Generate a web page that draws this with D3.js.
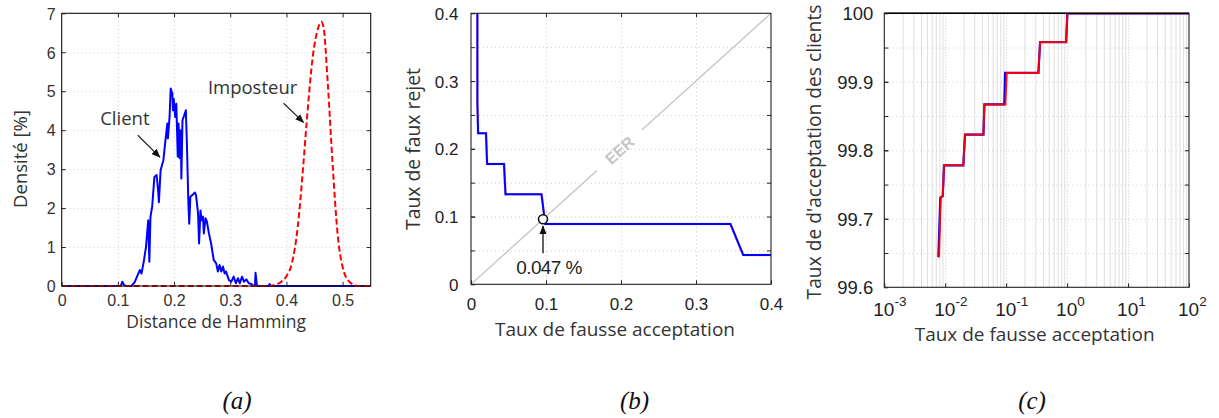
<!DOCTYPE html>
<html><head><meta charset="utf-8">
<script src="https://cdn.jsdelivr.net/npm/d3@7"></script>
<style>
html,body{margin:0;padding:0;background:#fff;}
svg{display:block;}
</style></head>
<body>
<svg id="chart" width="1219" height="418"></svg>
<script>
// ---------- DATA ----------
// (a) Hamming distance densities [%]
const clientDensity = [[0,0],[0.105,0],[0.108,0.11],[0.111,0.02],[0.115,0],[0.124,0],[0.13,0.1],[0.134,0.24],[0.139,0.41],[0.142,0.32],[0.146,0.62],[0.150,1.0],[0.154,1.69],[0.156,0.62],[0.158,1.78],[0.161,2.03],[0.165,2.8],[0.169,2.85],[0.172,2.38],[0.173,2.15],[0.176,2.97],[0.181,3.23],[0.185,3.79],[0.188,4.17],[0.189,3.79],[0.192,4.34],[0.194,5.07],[0.197,4.94],[0.198,4.51],[0.1995,4.8],[0.202,4.34],[0.204,4.68],[0.2066,3.32],[0.208,4.17],[0.21,3.28],[0.212,4.0],[0.213,2.76],[0.215,4.26],[0.218,4.38],[0.221,4.51],[0.223,3.57],[0.2255,2.12],[0.227,1.6],[0.229,2.29],[0.233,2.34],[0.237,2.4],[0.239,2.34],[0.2427,1.86],[0.2445,1.09],[0.247,1.94],[0.249,1.69],[0.2515,1.78],[0.253,1.35],[0.256,1.74],[0.2585,1.65],[0.262,1.35],[0.266,1.09],[0.2705,0.67],[0.275,0.58],[0.278,0.37],[0.281,0.54],[0.284,0.37],[0.287,0.5],[0.29,0.32],[0.2925,0.37],[0.2977,0.15],[0.302,0.11],[0.306,0.24],[0.31,0.07],[0.3137,0.2],[0.317,0.07],[0.321,0.24],[0.3244,0.11],[0.3286,0.17],[0.333,0.07],[0.3375,0.05],[0.3415,0],[0.344,0],[0.345,0.34],[0.3475,0],[0.368,0],[0.37,0.05],[0.372,0],[0.55,0]];
const imposterDensity = [[0,0],[0.37,0],[0.38,0.03],[0.39,0.1],[0.40,0.25],[0.41,0.6],[0.42,1.5],[0.43,3.1],[0.436,4.2],[0.447,5.9],[0.456,6.6],[0.462,6.78],[0.466,6.65],[0.4736,5.2],[0.4825,3.06],[0.491,1.35],[0.5,0.49],[0.512,0.11],[0.527,0],[0.55,0]];
const ticksAx = [0,0.1,0.2,0.3,0.4,0.5];
const ticksAy = [0,1,2,3,4,5,6,7];
const annotA = [
  {text:"Client", lx:0.1124, ly:4.31, x1:0.1355, y1:3.87, x2:0.1746, y2:3.31},
  {text:"Imposteur", lx:0.3398, ly:5.10, x1:0.395, y1:4.69, x2:0.4304, y2:4.2}
];
// (b) ROC : FRR vs FAR
const frrCurve = [[0.0085,0.4],[0.0085,0.27],[0.0095,0.223],[0.020,0.223],[0.0215,0.1776],[0.044,0.1776],[0.046,0.133],[0.094,0.133],[0.099,0.089],[0.346,0.089],[0.363,0.0432],[0.4,0.0432]];
const eerPoint = [0.096,0.096];
const eerLabel = "0.047 %";
const ticksBx = [0,0.1,0.2,0.3,0.4];
const ticksBy = [0,0.1,0.2,0.3,0.4];
const minorB = [0.05,0.1,0.15,0.2,0.25,0.3,0.35];
// (c) Genuine acceptance vs FAR (log)
const garRed = [[0.0079,99.644],[0.00843,99.731],[0.0091,99.733],[0.00955,99.778],[0.0198,99.778],[0.0211,99.823],[0.0423,99.823],[0.0439,99.867],[0.097,99.867],[0.102,99.913],[0.338,99.913],[0.36,99.958],[0.964,99.958],[1.01,100],[100,100]];
const garBlue = [[0.0077,99.644],[0.0083,99.731],[0.0091,99.733],[0.00955,99.778],[0.0198,99.778],[0.0211,99.823],[0.0423,99.823],[0.0439,99.867],[0.093,99.867],[0.096,99.913],[0.338,99.913],[0.36,99.958],[0.964,99.958],[1.01,100],[100,100]];
const ticksCx = [1e-3,1e-2,1e-1,1e0,1e1,1e2];
const ticksCy = [99.6,99.7,99.8,99.9,100];
const minorCy = [99.65,99.7,99.75,99.8,99.85,99.9,99.95];
const captions = ["(a)","(b)","(c)"];

// ---------- SETUP ----------
const svg = d3.select("#chart");
const TICKFONT = "'Liberation Sans', Arial, sans-serif";
const TITLEFONT = "'Open Sans', 'Noto Sans', sans-serif";
const GRID = "#cfcfcf";

const defs = svg.append("defs");
defs.append("marker").attr("id","arr").attr("viewBox","0 0 10 10").attr("refX",9).attr("refY",5)
  .attr("markerWidth",9).attr("markerHeight",9).attr("markerUnits","userSpaceOnUse").attr("orient","auto")
  .append("path").attr("d","M0,1 L10,5 L0,9 Z").attr("fill","#111");

function fit(sel, target){
  const w = sel.node().getComputedTextLength();
  const fs = parseFloat(sel.attr("font-size"));
  sel.attr("font-size", (fs*target/w).toFixed(2));
}
function clip(id, x0,x1,y0,y1){
  defs.append("clipPath").attr("id",id).append("rect")
    .attr("x",x0).attr("y",y1).attr("width",x1-x0).attr("height",y0-y1);
}
function frame(g, x0,x1,y0,y1, col){
  g.append("rect").attr("x",x0).attr("y",y1).attr("width",x1-x0).attr("height",y0-y1)
   .attr("fill","none").attr("stroke",col||"#111").attr("stroke-width",1.1);
}
function styleAxis(a){ a.select(".domain").remove(); a.selectAll("line").attr("stroke","#222"); }

// ---------- PANEL A ----------
{
  const x = d3.scaleLinear([0,0.55],[61.7,370.7]);
  const y = d3.scaleLinear([0,7],[286,13.3]);
  const [X0,X1] = x.range(), [Y0,Y1] = y.range();
  const g = svg.append("g");
  clip("ca",X0,X1,Y0+2,Y1);
  g.append("g").attr("transform",`translate(0,${Y0})`)
    .call(d3.axisBottom(x).tickValues(ticksAx.slice(1)).tickSize(-(Y0-Y1)).tickFormat(""))
    .call(a=>{a.select(".domain").remove();a.selectAll("line").attr("stroke",GRID).attr("stroke-dasharray","1,3");});
  g.append("g").attr("transform",`translate(${X0},0)`)
    .call(d3.axisLeft(y).tickValues(ticksAy.slice(1,7)).tickSize(-(X1-X0)).tickFormat(""))
    .call(a=>{a.select(".domain").remove();a.selectAll("line").attr("stroke",GRID).attr("stroke-dasharray","1,3");});
  const line = d3.line().x(d=>x(d[0])).y(d=>y(d[1]));
  const lineS = d3.line().x(d=>x(d[0])).y(d=>y(d[1])).curve(d3.curveMonotoneX);
  const pl = g.append("g").attr("clip-path","url(#ca)");
  pl.append("path").datum(clientDensity).attr("d",line).attr("fill","none").attr("stroke","#0000ff").attr("stroke-width",2).attr("stroke-linejoin","round");
  pl.append("path").datum(imposterDensity).attr("d",lineS).attr("fill","none").attr("stroke","#ff0000").attr("stroke-width",2).attr("stroke-dasharray","6,3");
  frame(g,X0,X1,Y0,Y1,"#111");
  const bx = g.append("g").attr("transform",`translate(0,${Y0})`).call(d3.axisBottom(x).tickValues(ticksAx).tickSize(-4).tickPadding(0).tickFormat(d3.format("")));
  styleAxis(bx);
  bx.selectAll("text").attr("y",19.5).attr("dy",null).attr("font-family",TICKFONT).attr("font-size",16).attr("fill","#333");
  const tx = g.append("g").attr("transform",`translate(0,${Y1})`).call(d3.axisTop(x).tickValues(ticksAx.slice(1)).tickSize(-4).tickFormat(""));
  styleAxis(tx);
  const ly = g.append("g").attr("transform",`translate(${X0},0)`).call(d3.axisLeft(y).tickValues(ticksAy).tickSize(-4).tickFormat(d3.format("d")));
  styleAxis(ly);
  ly.selectAll("text").attr("x",-6).attr("dy","0.36em").attr("font-family",TICKFONT).attr("font-size",16).attr("fill","#333");
  const ry = g.append("g").attr("transform",`translate(${X1},0)`).call(d3.axisRight(y).tickValues(ticksAy.slice(1,7)).tickSize(-4).tickFormat(""));
  styleAxis(ry);
  g.append("text").attr("x",(X0+X1)/2).attr("y",327.5).attr("text-anchor","middle").attr("font-family",TITLEFONT).attr("font-size",17.5).attr("fill","#333").text("Distance de Hamming");
  const yt = g.append("text").attr("transform","translate(26.5,159) rotate(-90)").attr("text-anchor","middle").attr("font-family",TITLEFONT).attr("font-size",18.5).attr("fill","#333").text("Densité [%]");
  fit(yt,98);
  annotA.forEach(a=>{
    g.append("text").attr("x",x(a.lx)).attr("y",y(a.ly)).attr("dy","0.36em").attr("text-anchor","middle")
      .attr("font-family",TITLEFONT).attr("font-size",18.5).attr("fill","#333").text(a.text);
    g.append("line").attr("x1",x(a.x1)).attr("y1",y(a.y1)).attr("x2",x(a.x2)).attr("y2",y(a.y2))
      .attr("stroke","#222").attr("stroke-width",1.2).attr("marker-end","url(#arr)");
  });
}

// ---------- PANEL B ----------
{
  const x = d3.scaleLinear([0,0.4],[471,771]);
  const y = d3.scaleLinear([0,0.4],[284.3,13.3]);
  const [X0,X1] = x.range(), [Y0,Y1] = y.range();
  const g = svg.append("g");
  clip("cb",X0,X1,Y0,Y1);
  g.append("g").attr("transform",`translate(0,${Y0})`)
    .call(d3.axisBottom(x).tickValues([0.1,0.2,0.3]).tickSize(-(Y0-Y1)).tickFormat(""))
    .call(a=>{a.select(".domain").remove();a.selectAll("line").attr("stroke",GRID).attr("stroke-dasharray","1,3");});
  g.append("g").attr("transform",`translate(${X0},0)`)
    .call(d3.axisLeft(y).tickValues(minorB).tickSize(-(X1-X0)).tickFormat(""))
    .call(a=>{a.select(".domain").remove();a.selectAll("line").attr("stroke",GRID).attr("stroke-dasharray","1,3");});
  const pl = g.append("g").attr("clip-path","url(#cb)");
  [[0,0.168],[0.228,0.4]].forEach(s=>{
    pl.append("line").attr("x1",x(s[0])).attr("y1",y(s[0])).attr("x2",x(s[1])).attr("y2",y(s[1]))
      .attr("stroke","#c4c4c4").attr("stroke-width",1.3);
  });
  const ang = Math.atan2(y(0)-y(0.4), x(0.4)-x(0))*180/Math.PI;
  g.append("text").attr("transform",`translate(${x(0.198)},${y(0.198)}) rotate(${-ang})`).attr("dy","0.36em")
    .attr("text-anchor","middle").attr("font-family",TICKFONT).attr("font-weight","bold").attr("font-size",16).attr("fill","#c6c6c6").text("EER");
  const line = d3.line().x(d=>x(d[0])).y(d=>y(d[1]));
  pl.append("path").datum(frrCurve).attr("d",line).attr("fill","none").attr("stroke","#cc1060").attr("stroke-width",2.6).attr("opacity",0.35);
  pl.append("path").datum(frrCurve).attr("d",line).attr("fill","none").attr("stroke","#0000ff").attr("stroke-width",2);
  frame(g,X0,X1,Y0,Y1,"#222");
  const bx = g.append("g").attr("transform",`translate(0,${Y0})`).call(d3.axisBottom(x).tickValues(ticksBx).tickSize(-4).tickFormat(d3.format("")));
  styleAxis(bx);
  bx.selectAll("text").attr("y",26.2).attr("dy",null).attr("font-family",TICKFONT).attr("font-size",17).attr("fill","#222");
  const ly = g.append("g").attr("transform",`translate(${X0},0)`).call(d3.axisLeft(y).tickValues(ticksBy).tickSize(-4).tickFormat(d3.format("")));
  styleAxis(ly);
  ly.selectAll("text").attr("x",-12.5).attr("dy","0.36em").attr("font-family",TICKFONT).attr("font-size",17).attr("fill","#222");
  const lyM = g.append("g").attr("transform",`translate(${X0},0)`).call(d3.axisLeft(y).tickValues(minorB).tickSize(-4).tickFormat(""));
  styleAxis(lyM);
  const ryM = g.append("g").attr("transform",`translate(${X1},0)`).call(d3.axisRight(y).tickValues(minorB).tickSize(-4).tickFormat(""));
  styleAxis(ryM);
  const txM = g.append("g").attr("transform",`translate(0,${Y1})`).call(d3.axisTop(x).tickValues([0.1,0.2,0.3]).tickSize(-4).tickFormat(""));
  styleAxis(txM);
  const xt = g.append("text").attr("x",(X0+X1)/2-6).attr("y",336).attr("text-anchor","middle").attr("font-family",TITLEFONT).attr("font-size",18.5).attr("fill","#333").text("Taux de fausse acceptation");
  fit(xt,240);
  const yt = g.append("text").attr("transform","translate(420,149) rotate(-90)").attr("text-anchor","middle").attr("font-family",TITLEFONT).attr("font-size",18.5).attr("fill","#333").text("Taux de faux rejet");
  fit(yt,162);
  g.append("line").attr("x1",x(eerPoint[0])).attr("y1",y(0.046)).attr("x2",x(eerPoint[0])).attr("y2",y(0.086))
    .attr("stroke","#111").attr("stroke-width",1.3).attr("marker-end","url(#arr)");
  g.append("circle").attr("cx",x(eerPoint[0])).attr("cy",y(eerPoint[1])).attr("r",4.5).attr("fill","#fff").attr("stroke","#111").attr("stroke-width",1.6);
  g.append("text").attr("x",x(0.104)).attr("y",y(0.0255)).attr("dy","0.36em").attr("text-anchor","middle")
    .attr("font-family",TICKFONT).attr("font-size",19).attr("fill","#222").attr("letter-spacing",-0.6).text(eerLabel);
}

// ---------- PANEL C ----------
{
  const x = d3.scaleLog([1e-3,1e2],[884.3,1189]);
  const y = d3.scaleLinear([99.6,100],[287.3,13.3]);
  const [X0,X1] = x.range(), [Y0,Y1] = y.range();
  const g = svg.append("g");
  clip("cc",X0,X1,Y0,Y1);
  const minorsX = [];
  for(let k=-3;k<=1;k++) for(let m=2;m<=9;m++) minorsX.push(m*Math.pow(10,k));
  g.append("g").attr("transform",`translate(0,${Y0})`)
    .call(d3.axisBottom(x).tickValues(minorsX).tickSize(-(Y0-Y1)).tickFormat(""))
    .call(a=>{a.select(".domain").remove();a.selectAll("line").attr("stroke","#dedede").attr("stroke-width",1);});
  g.append("g").attr("transform",`translate(0,${Y0})`)
    .call(d3.axisBottom(x).tickValues(ticksCx.slice(1,5)).tickSize(-(Y0-Y1)).tickFormat(""))
    .call(a=>{a.select(".domain").remove();a.selectAll("line").attr("stroke","#c8c8c8").attr("stroke-dasharray","1,2");});
  g.append("g").attr("transform",`translate(${X0},0)`)
    .call(d3.axisLeft(y).tickValues(minorCy).tickSize(-(X1-X0)).tickFormat(""))
    .call(a=>{a.select(".domain").remove();a.selectAll("line").attr("stroke",GRID).attr("stroke-dasharray","1,3");});
  const line = d3.line().x(d=>x(d[0])).y(d=>y(d[1]));
  const pl = g.append("g").attr("clip-path","url(#cc)");
  frame(g,X0,X1,Y0,Y1,"#222");
  g.append("line").attr("x1",X0).attr("x2",X1).attr("y1",Y1).attr("y2",Y1).attr("stroke","#000").attr("stroke-width",1.4);
  pl.append("path").datum(garBlue).attr("d",line).attr("fill","none").attr("stroke","#0000ff").attr("stroke-width",2.2);
  pl.append("path").datum(garRed).attr("d",line).attr("fill","none").attr("stroke","#ff0000").attr("stroke-width",2).attr("opacity",0.92);
  const bx = g.append("g").attr("transform",`translate(0,${Y0})`).call(d3.axisBottom(x).tickValues(ticksCx).tickSize(-4).tickFormat(""));
  styleAxis(bx);
  bx.selectAll("text").each(function(d){
    const t = d3.select(this).attr("text-anchor","start").attr("x",-11.5).attr("y",28.3).attr("dy",null)
      .attr("font-family",TICKFONT).attr("font-size",19).attr("fill","#222");
    t.append("tspan").text("10");
    t.append("tspan").attr("dy",-10).attr("font-size",13.5).text(String(Math.round(Math.log10(d))));
  });
  const ly = g.append("g").attr("transform",`translate(${X0},0)`).call(d3.axisLeft(y).tickValues(ticksCy).tickSize(-4).tickFormat(d=>d===100?"100":d3.format(".1f")(d)));
  styleAxis(ly);
  ly.selectAll("text").attr("x",-11).attr("dy","0.36em").attr("font-family",TICKFONT).attr("font-size",18.5).attr("fill","#222");
  const lyM = g.append("g").attr("transform",`translate(${X0},0)`).call(d3.axisLeft(y).tickValues(minorCy).tickSize(-4).tickFormat(""));
  styleAxis(lyM);
  const ryM = g.append("g").attr("transform",`translate(${X1},0)`).call(d3.axisRight(y).tickValues(minorCy).tickSize(-4).tickFormat(""));
  styleAxis(ryM);
  const xt = g.append("text").attr("x",(X0+X1)/2-2).attr("y",341).attr("text-anchor","middle").attr("font-family",TITLEFONT).attr("font-size",18.5).attr("fill","#333").text("Taux de fausse acceptation");
  fit(xt,240);
  const yt = g.append("text").attr("transform","translate(821,152) rotate(-90)").attr("text-anchor","middle").attr("font-family",TITLEFONT).attr("font-size",18.5).attr("fill","#333").text("Taux de d'acceptation des clients");
  fit(yt,295);
}

// ---------- CAPTIONS ----------
const capX = d3.scalePoint(captions,[237,1032]);
svg.selectAll("text.cap").data(captions).join("text").attr("class","cap")
  .attr("x",d=>capX(d)).attr("y",409).attr("text-anchor","middle")
  .attr("font-family","'Liberation Serif','DejaVu Serif',serif").attr("font-style","italic").attr("font-size",25).attr("fill","#111")
  .text(d=>d);
</script>
</body></html>
